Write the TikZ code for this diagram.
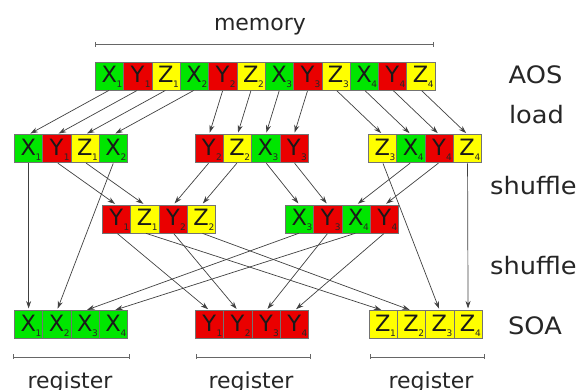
\documentclass[tikz,border=0pt]{standalone}
\usepackage{fontspec}
\setmainfont{DejaVu Sans}
\newfontfamily\labfont[FakeStretch=1.07]{DejaVu Sans}
\usetikzlibrary{arrows.meta}
\definecolor{cg}{RGB}{0,230,0}
\definecolor{cr}{RGB}{234,0,0}
\definecolor{cy}{RGB}{255,255,0}
\newcommand\cellat[6]{%
  \node[cellbox, fill=#4] (#1) at (#2,#3) {};
  \node[lett] at ({#2+13.8},{#3+20.6}) {#5};
  \node[subs] at ({#2+20.9},{#3+26}) {#6};
}
\begin{document}
\begin{tikzpicture}[x=1pt,y=-1pt,
  cellbox/.style={draw=black!55, line width=0.7pt, minimum width=28.3pt, minimum height=28pt, inner sep=0pt, outer sep=0pt, anchor=north west},
  lett/.style={anchor=base, inner sep=0pt, font=\fontsize{22.5}{22.5}\selectfont, text=black!90},
  subs/.style={anchor=base west, inner sep=0pt, font=\fontsize{9}{9}\selectfont, text=black!85},
  conn/.style={draw=black!75, line width=0.7pt, -{Stealth[length=7.5pt,width=5pt]}, shorten >=2pt, shorten <=1pt},
  lab/.style={anchor=base, inner sep=0pt, font=\labfont\fontsize{24}{24}\selectfont, text=black!85},
  small/.style={anchor=base, inner sep=0pt, font=\fontsize{22}{22}\selectfont, text=black!85},
  brk/.style={draw=black!60, line width=0.8pt},
]
\useasboundingbox (0,0) rectangle (579,390);
% AOS row
\foreach \l/\c/\s [count=\i] in {X/cg/1,Y/cr/1,Z/cy/1,X/cg/2,Y/cr/2,Z/cy/2,X/cg/3,Y/cr/3,Z/cy/3,X/cg/4,Y/cr/4,Z/cy/4}{
  \pgfmathsetmacro\xx{95.5+(\i-1)*28.3}
  \cellat{a\i}{\xx}{62}{\c}{\l}{\s}
}
% load row
\foreach \l/\c/\s [count=\i] in {X/cg/1,Y/cr/1,Z/cy/1,X/cg/2}{
  \pgfmathsetmacro\xx{14.5+(\i-1)*28.3}
  \cellat{l\i}{\xx}{134.5}{\c}{\l}{\s}
}
\foreach \l/\c/\s [count=\i from 5] in {Y/cr/2,Z/cy/2,X/cg/3,Y/cr/3}{
  \pgfmathsetmacro\xx{195+(\i-5)*28.3}
  \cellat{l\i}{\xx}{134.5}{\c}{\l}{\s}
}
\foreach \l/\c/\s [count=\i from 9] in {Z/cy/3,X/cg/4,Y/cr/4,Z/cy/4}{
  \pgfmathsetmacro\xx{368.5+(\i-9)*28.3}
  \cellat{l\i}{\xx}{134.5}{\c}{\l}{\s}
}
% shuffled row
\foreach \l/\c/\s [count=\i] in {Y/cr/1,Z/cy/1,Y/cr/2,Z/cy/2}{
  \pgfmathsetmacro\xx{102.5+(\i-1)*28.3}
  \cellat{s\i}{\xx}{205}{\c}{\l}{\s}
}
\foreach \l/\c/\s [count=\i from 5] in {X/cg/3,Y/cr/3,X/cg/4,Y/cr/4}{
  \pgfmathsetmacro\xx{285.5+(\i-5)*28.3}
  \cellat{s\i}{\xx}{205}{\c}{\l}{\s}
}
% SOA row
\foreach \l/\c/\s [count=\i] in {X/cg/1,X/cg/2,X/cg/3,X/cg/4}{
  \pgfmathsetmacro\xx{14.5+(\i-1)*28.3}
  \cellat{o\i}{\xx}{310.5}{\c}{\l}{\s}
}
\foreach \l/\c/\s [count=\i from 5] in {Y/cr/1,Y/cr/2,Y/cr/3,Y/cr/4}{
  \pgfmathsetmacro\xx{195.5+(\i-5)*28.3}
  \cellat{o\i}{\xx}{310.5}{\c}{\l}{\s}
}
\foreach \l/\c/\s [count=\i from 9] in {Z/cy/1,Z/cy/2,Z/cy/3,Z/cy/4}{
  \pgfmathsetmacro\xx{369+(\i-9)*28.3}
  \cellat{o\i}{\xx}{310.5}{\c}{\l}{\s}
}
% load arrows
\foreach \i in {1,...,12}{\draw[conn] (a\i.south) -- (l\i.north);}
% first shuffle
\foreach \p/\q in {l2/s1,l3/s2,l5/s3,l6/s4,l7/s5,l8/s6,l10/s7,l11/s8}{\draw[conn] (\p.south) -- (\q.north);}
% pass-through
\foreach \p/\q in {l1/o1,l4/o2,l9/o11,l12/o12}{\draw[conn] (\p.south) -- (\q.north);}
% second shuffle
\foreach \p/\q in {s1/o5,s2/o9,s3/o6,s4/o10,s5/o3,s6/o7,s7/o4,s8/o8}{\draw[conn] (\p.south) -- (\q.north);}
% memory bracket
\coordinate (ml) at (95.8,44.5); \coordinate (mr) at (433,44.5);
\draw[brk] (ml) -- (mr);
\draw[brk] ([yshift=2.5pt]ml) -- ([yshift=-2.5pt]ml);
\draw[brk] ([yshift=2.5pt]mr) -- ([yshift=-2.5pt]mr);
\node[small] (mem) at (260,31) {memory};
% register brackets
\foreach \a/\b/\c in {13.5/129.3/70,196.5/310/251,370/484/431}{
  \draw[brk] (\a,357) -- (\b,357);
  \draw[brk] (\a,354.5) -- (\a,359.5);
  \draw[brk] (\b,354.5) -- (\b,359.5);
  \node[small] at (\c,388.5) {register};
}
% right labels
\node[lab] (laos) at (535.5,84) {AOS};
\node[lab] (lload) at (536.5,124) {load};
\node[lab] (lsh1) at (533.5,195) {shuffle};
\node[lab] (lsh2) at (533.5,275) {shuffle};
\node[lab] (lsoa) at (535,334.5) {SOA};
\end{tikzpicture}
\end{document}
